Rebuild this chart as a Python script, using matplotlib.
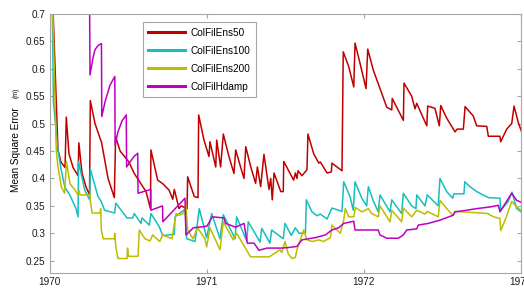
import matplotlib
matplotlib.use("Agg")
import matplotlib.pyplot as plt
import numpy as np

# time in years after 1970-01-01, error in metres
ens50_t = [0.016, 0.054, 0.073, 0.099, 0.107, 0.124, 0.150, 0.182, 0.187, 0.207,
           0.232, 0.255, 0.260, 0.290, 0.332, 0.373, 0.413, 0.421, 0.450, 0.506,
           0.538, 0.615, 0.643, 0.646, 0.689, 0.723, 0.761, 0.785, 0.795, 0.825,
           0.838, 0.876, 0.880, 0.922, 0.946, 0.950, 0.984, 1.016, 1.022, 1.059,
           1.065, 1.090, 1.107, 1.143, 1.175, 1.186, 1.218, 1.239, 1.250, 1.282,
           1.313, 1.324, 1.345, 1.366, 1.398, 1.409, 1.419, 1.430, 1.473, 1.489,
           1.492, 1.555, 1.566, 1.576, 1.583, 1.608, 1.640, 1.646, 1.683, 1.715,
           1.725, 1.768, 1.795, 1.799, 1.863, 1.871, 1.906, 1.938, 1.946, 1.978,
           2.016, 2.027, 2.062, 2.105, 2.148, 2.180, 2.183, 2.254, 2.258, 2.307,
           2.328, 2.339, 2.381, 2.403, 2.409, 2.455, 2.483, 2.492, 2.530, 2.583,
           2.596, 2.636, 2.647, 2.699, 2.721, 2.785, 2.795, 2.869, 2.874, 2.912,
           2.944, 2.959, 2.986, 3.016]
ens50_v = [0.76, 0.452, 0.430, 0.420, 0.512, 0.445, 0.420, 0.405, 0.465, 0.410,
           0.385, 0.370, 0.542, 0.500, 0.465, 0.400, 0.365, 0.476, 0.450, 0.430,
           0.410, 0.376, 0.345, 0.452, 0.397, 0.390, 0.379, 0.362, 0.380, 0.345,
           0.350, 0.345, 0.403, 0.367, 0.365, 0.516, 0.470, 0.440, 0.467, 0.421,
           0.470, 0.421, 0.481, 0.440, 0.409, 0.452, 0.420, 0.400, 0.458, 0.421,
           0.391, 0.421, 0.385, 0.444, 0.380, 0.400, 0.361, 0.410, 0.376, 0.376,
           0.431, 0.397, 0.410, 0.400, 0.414, 0.405, 0.416, 0.481, 0.445, 0.428,
           0.430, 0.410, 0.412, 0.428, 0.414, 0.631, 0.604, 0.567, 0.647, 0.610,
           0.564, 0.636, 0.598, 0.564, 0.530, 0.525, 0.546, 0.506, 0.574, 0.550,
           0.527, 0.537, 0.510, 0.496, 0.532, 0.528, 0.496, 0.533, 0.510, 0.485,
           0.490, 0.490, 0.531, 0.514, 0.496, 0.495, 0.477, 0.477, 0.467, 0.490,
           0.500, 0.532, 0.502, 0.478]

ens100_t = [0.016, 0.025, 0.054, 0.075, 0.097, 0.107, 0.129, 0.169, 0.182, 0.185,
            0.224, 0.256, 0.260, 0.309, 0.330, 0.351, 0.415, 0.422, 0.494, 0.530,
            0.540, 0.583, 0.589, 0.636, 0.646, 0.699, 0.721, 0.795, 0.799, 0.863,
            0.874, 0.927, 0.954, 1.001, 1.033, 1.086, 1.107, 1.182, 1.192, 1.256,
            1.266, 1.341, 1.352, 1.404, 1.415, 1.489, 1.500, 1.540, 1.566, 1.590,
            1.630, 1.636, 1.672, 1.704, 1.725, 1.768, 1.799, 1.863, 1.874, 1.914,
            1.935, 1.946, 1.989, 2.020, 2.031, 2.061, 2.094, 2.105, 2.169, 2.180,
            2.243, 2.254, 2.307, 2.334, 2.339, 2.392, 2.406, 2.476, 2.487, 2.530,
            2.568, 2.576, 2.640, 2.645, 2.678, 2.721, 2.795, 2.869, 2.874, 2.922,
            2.946, 2.976, 3.018]
ens100_v = [0.76, 0.540, 0.452, 0.415, 0.385, 0.380, 0.370, 0.345, 0.330, 0.431,
            0.379, 0.361, 0.417, 0.367, 0.358, 0.342, 0.337, 0.355, 0.328, 0.328,
            0.336, 0.318, 0.328, 0.315, 0.336, 0.312, 0.296, 0.298, 0.330, 0.344,
            0.290, 0.285, 0.345, 0.292, 0.336, 0.290, 0.334, 0.290, 0.330, 0.286,
            0.321, 0.284, 0.309, 0.282, 0.306, 0.290, 0.318, 0.296, 0.310, 0.300,
            0.300, 0.361, 0.339, 0.332, 0.335, 0.326, 0.346, 0.340, 0.394, 0.367,
            0.342, 0.394, 0.364, 0.350, 0.385, 0.360, 0.339, 0.370, 0.339, 0.361,
            0.336, 0.373, 0.350, 0.345, 0.370, 0.350, 0.370, 0.350, 0.400, 0.376,
            0.364, 0.372, 0.372, 0.394, 0.385, 0.376, 0.365, 0.364, 0.342, 0.358,
            0.375, 0.345, 0.336]

ens200_t = [0.016, 0.043, 0.054, 0.075, 0.096, 0.108, 0.131, 0.162, 0.182, 0.188,
            0.194, 0.258, 0.262, 0.272, 0.322, 0.326, 0.330, 0.342, 0.414, 0.415,
            0.424, 0.436, 0.494, 0.497, 0.503, 0.564, 0.572, 0.608, 0.640, 0.657,
            0.702, 0.721, 0.780, 0.806, 0.825, 0.850, 0.869, 0.880, 0.914, 0.943,
            0.990, 1.001, 1.022, 1.086, 1.107, 1.170, 1.192, 1.256, 1.280, 1.400,
            1.468, 1.480, 1.500, 1.521, 1.545, 1.566, 1.576, 1.597, 1.619, 1.640,
            1.672, 1.715, 1.746, 1.789, 1.799, 1.852, 1.874, 1.884, 1.906, 1.938,
            1.948, 1.990, 2.031, 2.052, 2.094, 2.105, 2.169, 2.180, 2.243, 2.254,
            2.307, 2.339, 2.392, 2.406, 2.476, 2.487, 2.530, 2.568, 2.583, 2.795,
            2.806, 2.840, 2.869, 2.874, 2.910, 2.944, 2.976, 3.018]
ens200_v = [0.76, 0.452, 0.421, 0.385, 0.373, 0.431, 0.390, 0.379, 0.370, 0.378,
            0.370, 0.370, 0.355, 0.337, 0.337, 0.345, 0.306, 0.290, 0.290, 0.300,
            0.272, 0.254, 0.254, 0.273, 0.258, 0.258, 0.306, 0.290, 0.286, 0.297,
            0.285, 0.297, 0.290, 0.336, 0.333, 0.336, 0.350, 0.306, 0.290, 0.310,
            0.290, 0.275, 0.310, 0.270, 0.321, 0.288, 0.300, 0.269, 0.257, 0.257,
            0.270, 0.265, 0.285, 0.262, 0.254, 0.256, 0.270, 0.288, 0.306, 0.288,
            0.285, 0.288, 0.285, 0.292, 0.315, 0.300, 0.324, 0.345, 0.330, 0.330,
            0.347, 0.339, 0.345, 0.336, 0.330, 0.350, 0.321, 0.342, 0.321, 0.346,
            0.330, 0.342, 0.335, 0.340, 0.330, 0.360, 0.345, 0.333, 0.340, 0.336,
            0.333, 0.329, 0.327, 0.305, 0.330, 0.358, 0.348, 0.339]

hdamp_t = [0.254, 0.258, 0.277, 0.290, 0.311, 0.331, 0.333, 0.354, 0.385, 0.416,
           0.418, 0.436, 0.462, 0.489, 0.491, 0.513, 0.538, 0.562, 0.564, 0.645,
           0.646, 0.720, 0.722, 0.768, 0.863, 0.869, 0.916, 0.980, 1.003, 1.037,
           1.111, 1.122, 1.186, 1.239, 1.260, 1.303, 1.334, 1.385, 1.473, 1.523,
           1.576, 1.608, 1.693, 1.757, 1.799, 1.842, 1.874, 1.938, 1.946, 2.094,
           2.105, 2.148, 2.222, 2.254, 2.275, 2.339, 2.349, 2.413, 2.487, 2.572,
           2.583, 2.657, 2.721, 2.806, 2.859, 2.869, 2.944, 2.976, 3.018]
hdamp_v = [0.78, 0.589, 0.620, 0.635, 0.643, 0.646, 0.513, 0.540, 0.570, 0.586,
           0.461, 0.485, 0.505, 0.516, 0.421, 0.430, 0.440, 0.446, 0.373, 0.380,
           0.342, 0.350, 0.321, 0.335, 0.364, 0.297, 0.310, 0.312, 0.313, 0.330,
           0.328, 0.318, 0.311, 0.318, 0.282, 0.282, 0.269, 0.273, 0.273, 0.274,
           0.276, 0.288, 0.292, 0.297, 0.306, 0.310, 0.318, 0.322, 0.306, 0.306,
           0.297, 0.291, 0.291, 0.297, 0.306, 0.308, 0.315, 0.318, 0.324, 0.333,
           0.339, 0.342, 0.345, 0.348, 0.351, 0.339, 0.373, 0.360, 0.355]

names = ["ColFilEns50", "ColFilEns100", "ColFilEns200", "ColFilHdamp"]
colors = ["#c00000", "#17bebe", "#bdbd00", "#c000c0"]
year_ticks = [1970, 1971, 1972, 1973]
err_ticks = [0.25, 0.3, 0.35, 0.4, 0.45, 0.5, 0.55, 0.6, 0.65, 0.7]

plt.rcParams["font.family"] = ["Liberation Sans", "DejaVu Sans"]
fs = 7.2
gray = "#a6a6a6"

fig = plt.figure(figsize=(5.24, 2.89), dpi=100)
ax = fig.add_axes([49.5 / 524, 1 - 273.3 / 289, 471 / 524, 259.3 / 289])

series = [(ens50_t, ens50_v), (ens100_t, ens100_v), (ens200_t, ens200_v), (hdamp_t, hdamp_v)]
for (t, v), name, c in zip(series, names, colors):
    ax.plot(1970 + np.array(t), v, color=c, lw=1.1, label=name)

ax.set_xlim(1970, 1973)
ax.set_ylim(0.227, 0.7)
ax.set_xticks(year_ticks)
ax.set_xticklabels([str(y) for y in year_ticks])
ax.set_yticks(err_ticks)
ax.set_yticklabels(["%g" % e for e in err_ticks])

for s in ax.spines.values():
    s.set_color(gray)
    s.set_linewidth(0.8)
ax.tick_params(direction="in", length=3, width=0.8, color=gray,
               labelsize=fs, labelcolor="#1a1a1a", top=True, right=True, pad=3)

leg = ax.legend(loc="upper left", bbox_to_anchor=((142.7 - 49.5) / 471, (273.3 - 22.3) / 259.3),
                borderaxespad=0, fontsize=fs, handlelength=3.7, handletextpad=0.5,
                labelspacing=0.8, borderpad=0.55, fancybox=False, framealpha=1)
leg.get_frame().set_edgecolor(gray)
leg.get_frame().set_linewidth(0.8)
for line in leg.get_lines():
    line.set_linewidth(2.2)

fig.text(16 / 524, 1 - 150 / 289, "Mean Square Error", rotation=90,
         ha="center", va="center", fontsize=fs)
fig.text(16 / 524, 1 - 93 / 289, "(m)", rotation=90,
         ha="center", va="center", fontsize=5)

fig.savefig("out.png", dpi=100)
